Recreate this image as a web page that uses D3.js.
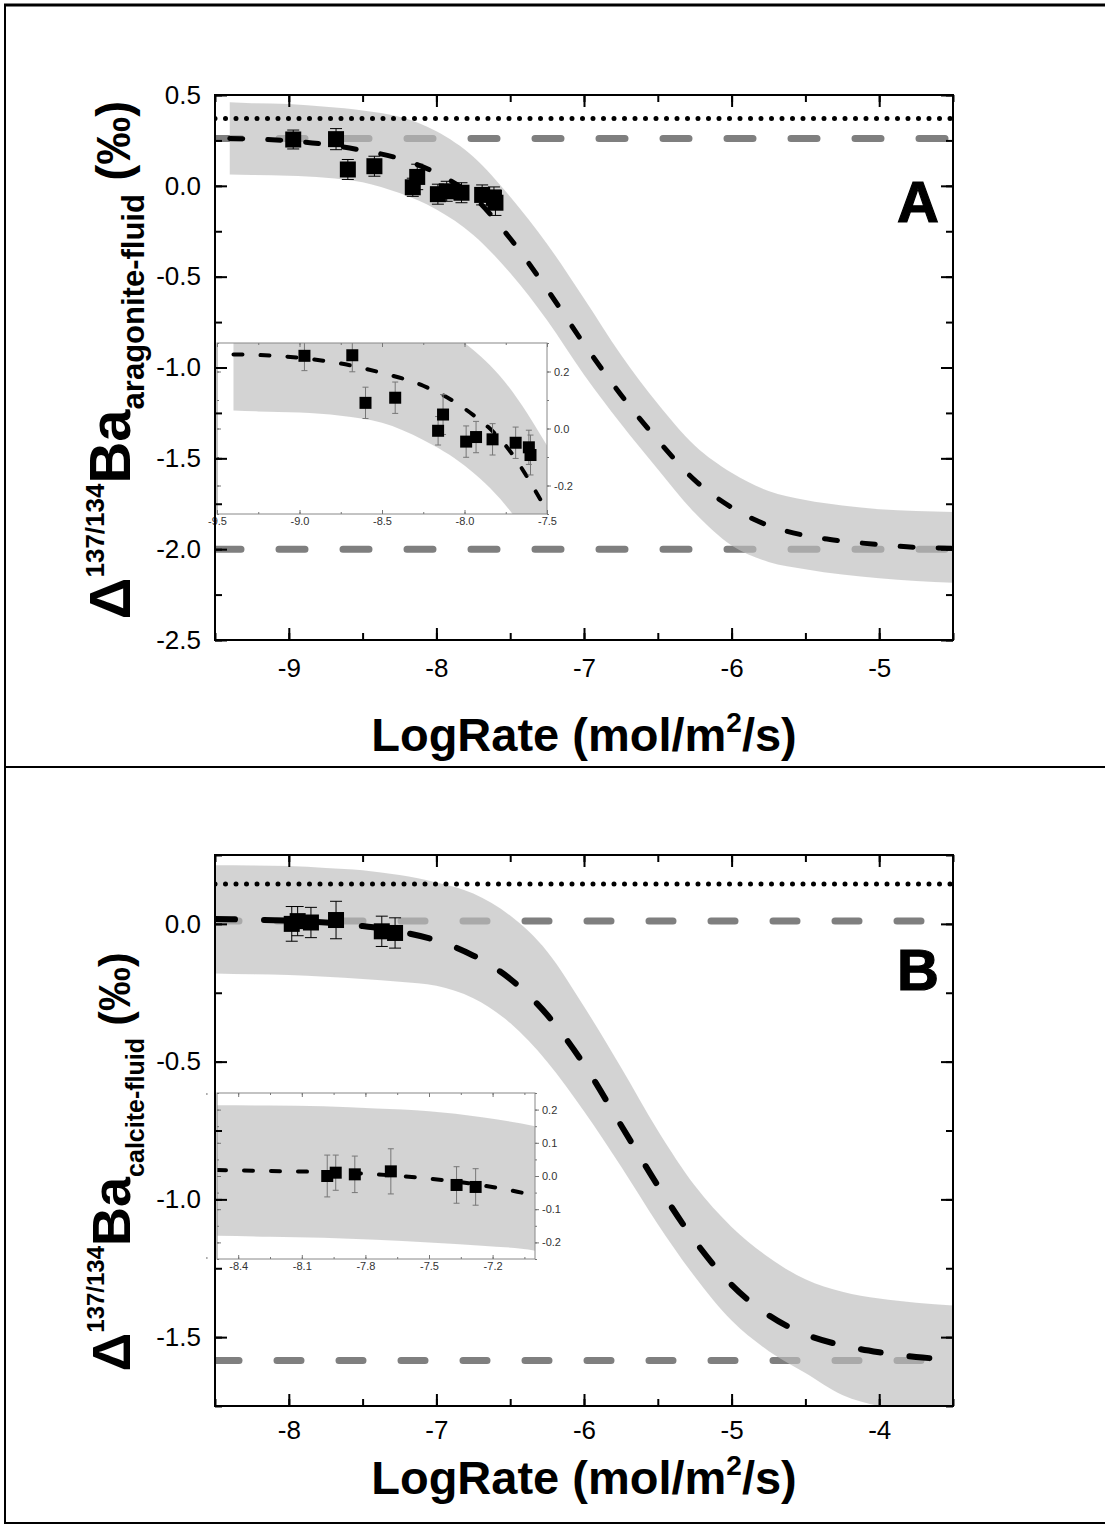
<!DOCTYPE html>
<html>
<head>
<meta charset="utf-8">
<script src="https://cdn.jsdelivr.net/npm/d3@7"></script>
<style>
  body { margin: 0; background: #fff; }
  text { font-family: "Liberation Sans", Arial, sans-serif; }
</style>
</head>
<body>
<svg id="chart" width="1105" height="1528"></svg>
<script>
// ---- panel A : aragonite ----
const rateA  = [-8.97, -8.68, -8.60, -8.42, -8.16, -8.13, -7.99, -7.93, -7.83, -7.69, -7.61, -7.60];
const deltaA = [0.255, 0.257, 0.090, 0.108, -0.008, 0.049, -0.046, -0.030, -0.038, -0.050, -0.066, -0.093];
const errA   = [0.052, 0.058, 0.055, 0.055, 0.050, 0.070, 0.055, 0.055, 0.055, 0.055, 0.060, 0.070];

const fitRateA = [-9.4, -9.25, -9.0, -8.75, -8.5, -8.25, -8.0, -7.75, -7.5, -7.25, -7.0, -6.75, -6.5, -6.25, -6.0, -5.75, -5.5, -5.25, -5.0, -4.75, -4.5];
const fitA     = [0.26, 0.258, 0.248, 0.228, 0.195, 0.15, 0.07, -0.06, -0.29, -0.57, -0.87, -1.15, -1.40, -1.62, -1.77, -1.87, -1.925, -1.955, -1.975, -1.99, -1.995];
const bandHiA  = [0.46, 0.455, 0.45, 0.435, 0.415, 0.38, 0.30, 0.16, -0.06, -0.32, -0.62, -0.93, -1.20, -1.43, -1.58, -1.68, -1.73, -1.76, -1.78, -1.79, -1.795];
const bandLoA  = [0.063, 0.06, 0.056, 0.045, 0.02, -0.04, -0.13, -0.27, -0.48, -0.74, -1.04, -1.31, -1.56, -1.80, -1.98, -2.07, -2.11, -2.14, -2.16, -2.175, -2.185];
const dottedA  = 0.37;
const dashedA  = [0.26, -2.0];

const xTicksA      = [-9, -8, -7, -6, -5];
const yTicksA      = [0.5, 0.0, -0.5, -1.0, -1.5, -2.0, -2.5];
const insetXTicksA = [-9.5, -9.0, -8.5, -8.0, -7.5];
const insetYTicksA = [0.2, 0.0, -0.2];

// ---- panel B : calcite ----
const rateB  = [-7.98, -7.94, -7.85, -7.68, -7.37, -7.28];
const deltaB = [0.0, 0.010, 0.005, 0.014, -0.027, -0.033];
const errB   = [0.063, 0.053, 0.055, 0.068, 0.055, 0.055];

const fitRateB = [-8.5, -8.25, -8.0, -7.75, -7.5, -7.25, -7.0, -6.75, -6.5, -6.25, -6.0, -5.75, -5.5, -5.25, -5.0, -4.75, -4.5, -4.25, -4.0, -3.75, -3.5];
const fitB     = [0.018, 0.015, 0.012, 0.005, -0.008, -0.028, -0.06, -0.115, -0.20, -0.33, -0.51, -0.73, -0.95, -1.15, -1.31, -1.42, -1.49, -1.53, -1.555, -1.572, -1.582];
const bandHiB  = [0.213, 0.212, 0.21, 0.203, 0.195, 0.177, 0.15, 0.11, 0.03, -0.10, -0.30, -0.52, -0.75, -0.95, -1.10, -1.21, -1.29, -1.335, -1.36, -1.375, -1.385];
const bandLoB  = [-0.18, -0.183, -0.186, -0.192, -0.20, -0.21, -0.225, -0.27, -0.36, -0.50, -0.68, -0.88, -1.09, -1.28, -1.44, -1.55, -1.63, -1.71, -1.75, -1.77, -1.785];
const dottedB  = 0.145;
const dashedB  = [0.01, -1.585];

const xTicksB      = [-8, -7, -6, -5, -4];
const yTicksB      = [0.0, -0.5, -1.0, -1.5];
const insetXTicksB = [-8.4, -8.1, -7.8, -7.5, -7.2];
const insetYTicksB = [0.2, 0.1, 0.0, -0.1, -0.2];

const svg = d3.select('#chart');
const FONT = '"Liberation Sans", Arial, sans-serif';

// figure frame
svg.append('line').attr('x1', 4).attr('x2', 1105).attr('y1', 5).attr('y2', 5).attr('stroke', '#000').attr('stroke-width', 3);
svg.append('line').attr('x1', 5).attr('x2', 5).attr('y1', 4).attr('y2', 1524).attr('stroke', '#000').attr('stroke-width', 2);
svg.append('line').attr('x1', 4).attr('x2', 1105).attr('y1', 767).attr('y2', 767).attr('stroke', '#000').attr('stroke-width', 2);
svg.append('line').attr('x1', 4).attr('x2', 1105).attr('y1', 1523).attr('y2', 1523).attr('stroke', '#000').attr('stroke-width', 2);

function rows(r, a, b, c) {
  return r.map((d, i) => ({ r: d, v: a[i], hi: b[i], lo: c[i] }));
}

function drawPoints(g, x, y, rate, val, err, size, capW, barColor) {
  const pts = rate.map((d, i) => ({ r: d, v: val[i], e: err[i] }));
  const eb = g.append('g').attr('stroke', barColor).attr('stroke-width', 1);
  eb.selectAll('line.v').data(pts).enter().append('line')
    .attr('x1', d => x(d.r)).attr('x2', d => x(d.r))
    .attr('y1', d => y(d.v - d.e)).attr('y2', d => y(d.v + d.e));
  eb.selectAll('line.t').data(pts).enter().append('line')
    .attr('x1', d => x(d.r) - capW).attr('x2', d => x(d.r) + capW)
    .attr('y1', d => y(d.v + d.e)).attr('y2', d => y(d.v + d.e));
  eb.selectAll('line.b').data(pts).enter().append('line')
    .attr('x1', d => x(d.r) - capW).attr('x2', d => x(d.r) + capW)
    .attr('y1', d => y(d.v - d.e)).attr('y2', d => y(d.v - d.e));
  g.selectAll('rect.pt').data(pts).enter().append('rect')
    .attr('x', d => x(d.r) - size / 2).attr('y', d => y(d.v) - size / 2)
    .attr('width', size).attr('height', size).attr('fill', '#000');
}

function panel(p) {
  const left = 215, right = 953;
  const x = d3.scaleLinear().domain(p.xDom).range([left, right]);
  const y = d3.scaleLinear().domain(p.yDom).range([p.bottom, p.top]);
  const g = svg.append('g');

  g.append('clipPath').attr('id', p.id + 'clip').append('rect')
    .attr('x', left).attr('y', p.top).attr('width', right - left).attr('height', p.bottom - p.top);
  const plot = g.append('g').attr('clip-path', `url(#${p.id}clip)`);

  // grey dashed limits
  plot.selectAll('line.lim').data(p.dashed).enter().append('line')
    .attr('x1', left).attr('x2', right)
    .attr('y1', d => y(d)).attr('y2', d => y(d))
    .attr('stroke', '#7f7f7f').attr('stroke-width', 7)
    .attr('stroke-linecap', 'round').attr('stroke-dasharray', p.limDash);

  // uncertainty band
  const fitRows = rows(p.fitRate, p.fit, p.bandHi, p.bandLo);
  const area = d3.area().x(d => x(d.r)).y0(d => y(d.lo)).y1(d => y(d.hi)).curve(d3.curveMonotoneX);
  plot.append('path').datum(fitRows).attr('d', area).attr('fill', '#bdbdbd').attr('fill-opacity', 0.67);

  // dotted line
  plot.append('line').attr('x1', left).attr('x2', right)
    .attr('y1', y(p.dotted)).attr('y2', y(p.dotted))
    .attr('stroke', '#000').attr('stroke-width', 5)
    .attr('stroke-linecap', 'round').attr('stroke-dasharray', '0 10.5');

  // fit
  const line = d3.line().x(d => x(d.r)).y(d => y(d.v)).curve(d3.curveMonotoneX);
  plot.append('path').datum(fitRows).attr('d', line)
    .attr('fill', 'none').attr('stroke', '#000').attr('stroke-width', p.fitWidth)
    .attr('stroke-linecap', 'round').attr('stroke-dasharray', p.fitDash);

  drawPoints(plot, x, y, p.rate, p.val, p.err, 16, 6, '#000');

  inset(g, p, fitRows);

  // frame + axes
  g.append('rect').attr('x', left).attr('y', p.top).attr('width', right - left).attr('height', p.bottom - p.top)
    .attr('fill', 'none').attr('stroke', '#000').attr('stroke-width', 2);

  const minorX = d3.range(p.xDom[0], p.xDom[1] + 1e-9, 0.5);
  const minorY = d3.range(p.yDom[0], p.yDom[1] + 1e-9, 0.25);
  const axes = [
    [d3.axisBottom(x), `translate(0,${p.bottom})`, minorX, p.xTicks, d => String(d), p.xPad],
    [d3.axisTop(x), `translate(0,${p.top})`, minorX, p.xTicks, null, 0],
    [d3.axisLeft(y), `translate(${left},0)`, minorY, p.yTicks, d => d.toFixed(1), 14],
    [d3.axisRight(y), `translate(${right},0)`, minorY, p.yTicks, null, 0]
  ];
  axes.forEach(([ax, tr, minor, major, fmt, pad]) => {
    g.append('g').attr('transform', tr)
      .call(ax.tickValues(minor).tickSizeInner(-7).tickSizeOuter(0).tickFormat(''))
      .call(s => s.select('.domain').remove())
      .selectAll('line').attr('stroke-width', 2);
    const ga = g.append('g').attr('transform', tr)
      .call(ax.tickValues(major).tickSizeInner(-12).tickSizeOuter(0).tickPadding(pad).tickFormat(fmt || ''))
      .call(s => s.select('.domain').remove());
    ga.selectAll('line').attr('stroke-width', 2);
    ga.selectAll('text').attr('font-size', 26).attr('font-family', FONT).attr('fill', '#000');
  });

  // axis titles
  const xt = g.append('text').attr('x', (left + right) / 2).attr('y', p.xTitleY)
    .attr('text-anchor', 'middle').attr('font-weight', 'bold').attr('font-size', 47);
  xt.append('tspan').text('LogRate (mol/m');
  xt.append('tspan').attr('font-size', 28).attr('dy', -19).text('2');
  xt.append('tspan').attr('dy', 19).text('/s)');

  const f = p.titleFont;
  const yt = g.append('text')
    .attr('transform', `translate(130,${p.yTitleC}) rotate(-90)`)
    .attr('text-anchor', 'middle').attr('font-weight', 'bold');
  yt.append('tspan').attr('font-size', f[0]).text('\u0394');
  yt.append('tspan').attr('font-size', f[1]).attr('dy', -26).text('137/134');
  yt.append('tspan').attr('font-size', f[0]).attr('dy', 26).text('Ba');
  yt.append('tspan').attr('font-size', f[2]).attr('dy', 14).text(p.phase);
  yt.append('tspan').attr('font-size', f[3]).attr('dy', -14).text(' (\u2030)');

  g.append('text').attr('x', 939).attr('y', p.labelY).attr('text-anchor', 'end')
    .attr('font-weight', 'bold').attr('font-size', 58)
    .attr('stroke', '#000').attr('stroke-width', 1.2).text(p.label);
}

function inset(g, p, fitRows) {
  const b = p.inset;
  const x = d3.scaleLinear().domain(b.xDom).range([b.x0, b.x1]);
  const y = d3.scaleLinear().domain(b.yDom).range([b.y1, b.y0]);
  const ig = g.append('g');
  ig.append('rect').attr('x', b.x0).attr('y', b.y0).attr('width', b.x1 - b.x0).attr('height', b.y1 - b.y0).attr('fill', '#fff');
  ig.append('clipPath').attr('id', p.id + 'iclip').append('rect')
    .attr('x', b.x0).attr('y', b.y0).attr('width', b.x1 - b.x0).attr('height', b.y1 - b.y0);
  const plot = ig.append('g').attr('clip-path', `url(#${p.id}iclip)`);

  const area = d3.area().x(d => x(d.r)).y0(d => y(d.lo)).y1(d => y(d.hi)).curve(d3.curveMonotoneX);
  plot.append('path').datum(fitRows).attr('d', area).attr('fill', '#bdbdbd').attr('fill-opacity', 0.67);
  const line = d3.line().x(d => x(d.r)).y(d => y(d.v)).curve(d3.curveMonotoneX);
  plot.append('path').datum(fitRows).attr('d', line)
    .attr('fill', 'none').attr('stroke', '#000').attr('stroke-width', 4)
    .attr('stroke-linecap', 'round').attr('stroke-dasharray', '9 18');
  drawPoints(plot, x, y, p.rate, p.val, p.err, 12, 3, '#777');

  ig.append('rect').attr('x', b.x0).attr('y', b.y0).attr('width', b.x1 - b.x0).attr('height', b.y1 - b.y0)
    .attr('fill', 'none').attr('stroke', '#888').attr('stroke-width', 1);

  const minorX = d3.range(b.xMinor[0], b.xDom[1] + 1e-9, b.xMinor[1]);
  const minorY = d3.range(b.yMinor[0], b.yDom[1] + 1e-9, b.yMinor[1]);
  const axes = [
    [d3.axisBottom(x), `translate(0,${b.y1})`, minorX, b.xTicks, d => d.toFixed(1), -4],
    [d3.axisTop(x), `translate(0,${b.y0})`, minorX, b.xTicks, null, -4],
    [d3.axisLeft(y), `translate(${b.x0},0)`, minorY, b.yTicks, null, -4],
    [d3.axisRight(y), `translate(${b.x1},0)`, minorY, b.yTicks, d => d.toFixed(1), 4]
  ];
  axes.forEach(([ax, tr, minor, major, fmt, size]) => {
    ig.append('g').attr('transform', tr)
      .call(ax.tickValues(minor).tickSizeInner(size / 2).tickSizeOuter(0).tickFormat(''))
      .call(s => s.select('.domain').remove())
      .selectAll('line').attr('stroke', '#777');
    const ga = ig.append('g').attr('transform', tr)
      .call(ax.tickValues(major).tickSizeInner(size).tickSizeOuter(0).tickPadding(3).tickFormat(fmt || ''))
      .call(s => s.select('.domain').remove());
    ga.selectAll('line').attr('stroke', '#777');
    ga.selectAll('text').attr('font-size', 11).attr('font-family', FONT).attr('fill', '#333');
  });
}

panel({
  id: 'A', label: 'A', phase: 'aragonite-fluid', titleFont: [58, 26, 31, 48],
  top: 95, bottom: 640, xDom: [-9.5, -4.5], yDom: [-2.5, 0.5],
  xTicks: xTicksA, yTicks: yTicksA, xPad: 19, xTitleY: 751, yTitleC: 360, labelY: 222,
  rate: rateA, val: deltaA, err: errA,
  fitRate: fitRateA, fit: fitA, bandHi: bandHiA, bandLo: bandLoA,
  dotted: dottedA, dashed: dashedA,
  fitWidth: 5, fitDash: '13 25', limDash: '26 38',
  inset: { x0: 217, x1: 547, y0: 343, y1: 514, xDom: [-9.5, -7.5], yDom: [-0.3, 0.3],
           xTicks: insetXTicksA, yTicks: insetYTicksA, xMinor: [-9.5, 0.25], yMinor: [-0.3, 0.1] }
});

panel({
  id: 'B', label: 'B', phase: 'calcite-fluid', titleFont: [54, 24, 25, 44],
  top: 855, bottom: 1406, xDom: [-8.5, -3.5], yDom: [-1.75, 0.25],
  xTicks: xTicksB, yTicks: yTicksB, xPad: 15, xTitleY: 1494, yTitleC: 1162, labelY: 990,
  rate: rateB, val: deltaB, err: errB,
  fitRate: fitRateB, fit: fitB, bandHi: bandHiB, bandLo: bandLoB,
  dotted: dottedB, dashed: dashedB,
  fitWidth: 6, fitDash: '20 29', limDash: '24 38',
  inset: { x0: 217, x1: 535, y0: 1093, y1: 1259, xDom: [-8.5, -7.0], yDom: [-0.25, 0.25],
           xTicks: insetXTicksB, yTicks: insetYTicksB, xMinor: [-8.55, 0.15], yMinor: [-0.25, 0.05] }
});
</script>
</body>
</html>
